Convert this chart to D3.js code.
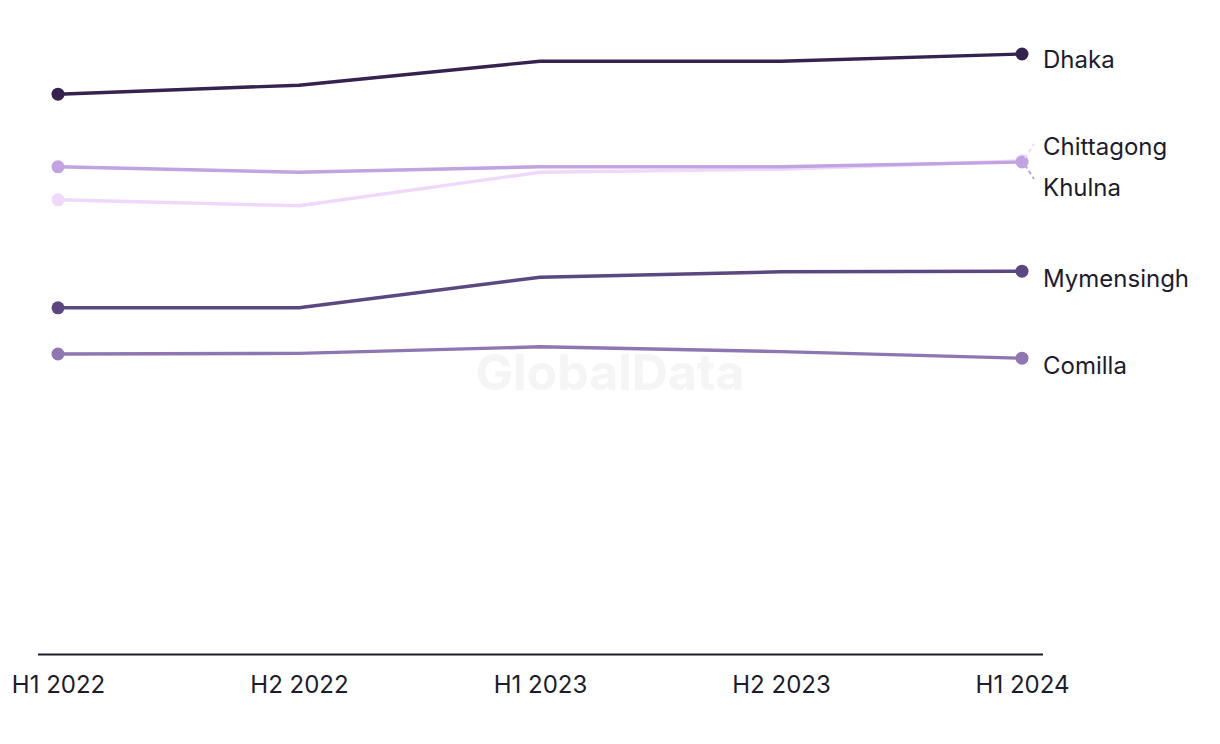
<!DOCTYPE html>
<html>
<head>
<meta charset="utf-8">
<script src="https://cdn.jsdelivr.net/npm/d3@7"></script>
<style>
  html, body { margin: 0; padding: 0; background: #fff; }
  svg { display: block; font-family: Inter, "Noto Sans", sans-serif; }
</style>
</head>
<body>
<svg id="chart" width="1220" height="744"></svg>
<script>
const periods = ["H1 2022", "H2 2022", "H1 2023", "H2 2023", "H1 2024"];
const dhaka      = [93.3, 94.8, 98.8, 98.8, 100.0];
const khulna     = [81.2, 80.3, 81.2, 81.2, 82.0];
const chittagong = [75.7, 74.7, 80.3, 80.8, 82.2];
const mymensingh = [57.7, 57.7, 62.8, 63.7, 63.8];
const comilla    = [50.0, 50.1, 51.2, 50.4, 49.3];

const seriesNames  = ["Dhaka", "Khulna", "Chittagong", "Mymensingh", "Comilla"];
const seriesValues = [dhaka, khulna, chittagong, mymensingh, comilla];
const seriesColors = ["#35224f", "#c0a3e0", "#f0d8fa", "#5c4880", "#8f76b3"];
// label offsets (px) to avoid overlap
const labelShift   = [6, 26, -14, 7, 7];

const svg = d3.select("#chart");
const x = d3.scalePoint().domain(periods).range([58, 1022]);
const y = d3.scaleLinear().domain([0, 100]).range([654, 54]);

// watermark
svg.append("text")
  .attr("x", 610).attr("y", 390)
  .attr("text-anchor", "middle")
  .attr("font-size", 50).attr("font-weight", 700)
  .attr("fill", "#f5f5f5")
  .text("GlobalData");

// axis
const axis = d3.axisBottom(x).tickSize(0).tickPadding(22);
const gx = svg.append("g").attr("transform", "translate(0,654)").call(axis);
gx.select(".domain").remove();
gx.selectAll("text").attr("font-size", 24).attr("fill", "#1c1c2e").attr("font-family", "Inter, sans-serif");
svg.append("line").attr("x1", 38).attr("x2", 1043).attr("y1", 654.5).attr("y2", 654.5)
  .attr("stroke", "#1c1c2e").attr("stroke-width", 2);

const line = d3.line().x((d, i) => x(periods[i])).y(d => y(d));

const order = [2, 1, 4, 3, 0];
order.forEach(k => {
  const vals = seriesValues[k];
  const g = svg.append("g");
  g.append("path").datum(vals).attr("d", line)
    .attr("fill", "none").attr("stroke", seriesColors[k]).attr("stroke-width", 3.4);
  [0, vals.length - 1].forEach(i => {
    g.append("circle").attr("cx", x(periods[i])).attr("cy", y(vals[i])).attr("r", 6.5)
      .attr("fill", seriesColors[k]);
  });
});

// labels
seriesNames.forEach((name, k) => {
  const vals = seriesValues[k];
  const last = vals[vals.length - 1];
  const ly = y(last) + labelShift[k];
  if (name === "Chittagong" || name === "Khulna") {
    const dir = name === "Chittagong" ? -1 : 1;
    svg.append("line")
      .attr("x1", x(periods[4]) + 3).attr("y1", y(last) + dir * 3)
      .attr("x2", x(periods[4]) + 12).attr("y2", y(last) + dir * 17)
      .attr("stroke", seriesColors[k]).attr("stroke-width", 2)
      .attr("stroke-dasharray", "4,3");
  }
  svg.append("text")
    .attr("x", 1043).attr("y", ly)
    .attr("dy", "0.35em")
    .attr("font-size", 24).attr("fill", "#1c1c2e")
    .text(name);
});
</script>
</body>
</html>
